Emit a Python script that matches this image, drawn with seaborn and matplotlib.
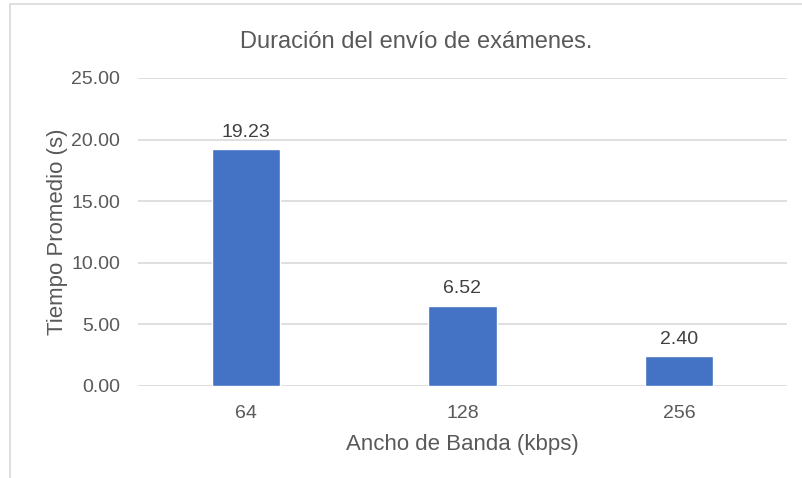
import matplotlib
matplotlib.use("Agg")
import matplotlib.pyplot as plt
from matplotlib.lines import Line2D
import seaborn as sns
import pandas as pd

# Data
bandwidth = ["64", "128", "256"]
avg_time = [19.23, 6.52, 2.40]
y_ticks = [0, 5, 10, 15, 20, 25]

title = "Duración del envío de exámenes."
x_label = "Ancho de Banda (kbps)"
y_label = "Tiempo Promedio (s)"

TEXT = "#595959"
GRID = "#D9D9D9"
BAR = "#4472C4"

sns.set_theme(style="white")
plt.rcParams["font.family"] = ["Liberation Sans", "DejaVu Sans"]

df = pd.DataFrame({"bw": bandwidth, "t": avg_time})

fig = plt.figure(figsize=(8.02, 4.78), dpi=100)
ax = fig.add_axes([138 / 802, 1 - 386 / 478, (787 - 138) / 802, (386 - 78) / 478])

sns.barplot(data=df, x="bw", y="t", color=BAR, width=0.315, saturation=1,
            ax=ax, zorder=3)

ax.set_ylim(0, 25)
ax.set_xlim(-0.5, 2.5)
ax.set_yticks(y_ticks)
ax.set_yticklabels([f"{v:.2f}" for v in y_ticks])
ax.yaxis.grid(True, color=GRID, linewidth=1.2, zorder=0)
ax.xaxis.grid(False)
for s in ax.spines.values():
    s.set_visible(False)
ax.tick_params(axis="both", length=0, labelsize=14, colors=TEXT)
ax.tick_params(axis="x", pad=14)
ax.tick_params(axis="y", pad=13)

for i, v in enumerate(avg_time):
    ax.annotate(f"{v:.2f}", (i, v), xytext=(0, 6), textcoords="offset points",
                ha="center", va="bottom", fontsize=14, color="#404040")

ax.set_xlabel(x_label, fontsize=16, color=TEXT, labelpad=8)
ax.set_ylabel(y_label, fontsize=16, color=TEXT, labelpad=2)
fig.text(416 / 802, 1 - 42 / 478, title, ha="center",
         va="center", fontsize=17, color=TEXT)

# chart frame (top and left edges)
fig.add_artist(Line2D([10 / 802, 1], [1 - 4 / 478, 1 - 4 / 478],
                      transform=fig.transFigure, color="#D9D9D9", linewidth=1.2))
fig.add_artist(Line2D([10 / 802, 10 / 802], [0, 1 - 4 / 478],
                      transform=fig.transFigure, color="#D9D9D9", linewidth=1.2))

fig.savefig("out.png", dpi=100)
